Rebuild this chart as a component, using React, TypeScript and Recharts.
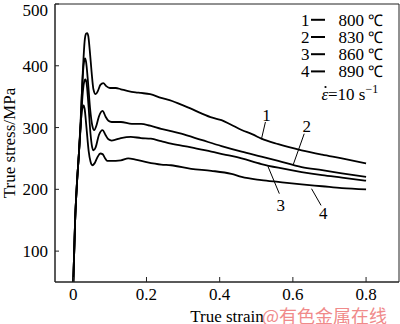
import {
  LineChart,
  Line,
  XAxis,
  YAxis,
  ReferenceArea,
  ReferenceLine,
  ReferenceDot,
} from "recharts";

// true strain / true stress (MPa)
const strain1 = [0, 0.005, 0.01, 0.015, 0.02, 0.026, 0.031, 0.035, 0.038, 0.041, 0.045, 0.05, 0.055, 0.061, 0.067, 0.074, 0.082, 0.09, 0.1, 0.116, 0.13, 0.15, 0.17, 0.185, 0.21, 0.24, 0.27, 0.295, 0.32, 0.35, 0.38, 0.405, 0.43, 0.46, 0.49, 0.514, 0.56, 0.624, 0.68, 0.734, 0.8];
const stress1 = [50, 150, 210, 255, 310, 390, 440, 452, 453, 448, 425, 390, 362, 354, 359, 369, 372, 367, 364, 364, 362, 359, 357, 356, 354, 348, 343, 337, 331, 323, 316, 312, 305, 296, 289, 282, 273, 263, 256, 250, 242];

const strain2 = [0, 0.005, 0.01, 0.015, 0.02, 0.025, 0.029, 0.032, 0.035, 0.04, 0.046, 0.052, 0.057, 0.063, 0.07, 0.08, 0.088, 0.096, 0.105, 0.13, 0.16, 0.185, 0.21, 0.24, 0.27, 0.295, 0.35, 0.405, 0.46, 0.514, 0.56, 0.624, 0.68, 0.734, 0.8];
const stress2 = [50, 150, 210, 255, 305, 375, 405, 412, 406, 375, 330, 303, 296, 303, 318, 327, 318, 311, 309, 309, 306, 306, 303, 298, 294, 290, 280, 270, 261, 253, 246, 236, 231, 226, 220];

const strain3 = [0, 0.005, 0.01, 0.015, 0.02, 0.025, 0.029, 0.033, 0.036, 0.041, 0.047, 0.051, 0.055, 0.061, 0.07, 0.08, 0.088, 0.096, 0.105, 0.13, 0.157, 0.185, 0.212, 0.24, 0.267, 0.322, 0.377, 0.432, 0.46, 0.514, 0.56, 0.624, 0.68, 0.734, 0.8];
const stress3 = [50, 150, 210, 255, 300, 350, 372, 378, 373, 340, 290, 270, 263, 268, 288, 296, 288, 281, 279, 283, 285, 283, 282, 278, 274, 268, 261, 254, 250, 241, 235, 228, 223, 219, 214];

const strain4 = [0, 0.005, 0.01, 0.015, 0.019, 0.023, 0.026, 0.028, 0.031, 0.036, 0.042, 0.047, 0.052, 0.058, 0.066, 0.074, 0.08, 0.086, 0.093, 0.102, 0.13, 0.15, 0.17, 0.2, 0.24, 0.267, 0.322, 0.377, 0.432, 0.46, 0.514, 0.56, 0.624, 0.68, 0.734, 0.8];
const stress4 = [50, 150, 210, 255, 295, 325, 334, 336, 330, 300, 262, 245, 239, 242, 252, 258, 257, 251, 246, 246, 247, 250, 248, 244, 240, 239, 233, 230, 225, 220, 215, 212, 208, 205, 202, 200];

const curveNames = ["1", "2", "3", "4"];
const temps = ["800", "830", "860", "890"];
const xTicks = [0, 0.2, 0.4, 0.6, 0.8];
const yTicks = [100, 200, 300, 400, 500];

// leader lines: [label point, line start, line end]
const leaders = [
  { label: { x: 0.528, y: 320 }, from: { x: 0.525, y: 309 }, to: { x: 0.514, y: 281 } },
  { label: { x: 0.638, y: 302 }, from: { x: 0.631, y: 290 }, to: { x: 0.601, y: 240 } },
  { label: { x: 0.567, y: 175 }, from: { x: 0.532, y: 237 }, to: { x: 0.563, y: 193 } },
  { label: { x: 0.683, y: 161 }, from: { x: 0.651, y: 201 }, to: { x: 0.677, y: 174 } },
];

const zip = (xs: number[], ys: number[]) => xs.map((x, i) => ({ strain: x, stress: ys[i] }));
const curves = [zip(strain1, stress1), zip(strain2, stress2), zip(strain3, stress3), zip(strain4, stress4)];

const font = "'Liberation Serif', 'Times New Roman', serif";

export default function App() {
  return (
    <div style={{ position: "absolute", left: 0, top: 0, width: 400, height: 324, fontFamily: font, background: "#fff" }}>
      <LineChart width={400} height={324} margin={{ top: 4, right: 1, left: 0, bottom: 0 }}>
        <XAxis
          dataKey="strain"
          type="number"
          domain={[-0.05, 0.89]}
          ticks={xTicks}
          allowDataOverflow
          height={42}
          tickSize={-5}
          tickMargin={11}
          stroke="#222"
          tick={{ fill: "#000", fontSize: 17, fontFamily: font }}
          label={{ value: "True strain", position: "insideBottom", offset: 0, dy: -2, fill: "#000", fontSize: 17, fontFamily: font }}
        />
        <YAxis
          type="number"
          domain={[50, 500]}
          ticks={yTicks}
          allowDataOverflow
          width={55}
          tickSize={-4}
          tickMargin={11}
          stroke="#222"
          tick={{ fill: "#000", fontSize: 17, fontFamily: font }}
          label={{ value: "True stress/MPa", angle: -90, position: "insideLeft", dx: 4, dy: 0, fill: "#000", fontSize: 17, fontFamily: font, style: { textAnchor: "middle" } }}
        />
        <ReferenceArea x1={-0.05} x2={0.89} y1={50} y2={500} fill="none" stroke="#222" strokeWidth={1} />
        {curves.map((d, i) => (
          <Line
            key={curveNames[i]}
            data={d}
            dataKey="stress"
            type="monotone"
            stroke="#000"
            strokeWidth={1.8}
            dot={false}
            isAnimationActive={false}
          />
        ))}
        {leaders.map((l, i) => (
          <ReferenceLine key={"l" + i} segment={[l.from, l.to]} stroke="#000" strokeWidth={1} />
        ))}
        {leaders.map((l, i) => (
          <ReferenceDot
            key={"d" + i}
            x={l.label.x}
            y={l.label.y}
            r={0}
            fill="none"
            stroke="none"
            label={{ value: curveNames[i], position: "center", fill: "#000", fontSize: 17, fontFamily: font }}
          />
        ))}
      </LineChart>
      <svg width={400} height={324} style={{ position: "absolute", left: 0, top: 0, pointerEvents: "none" }}>
        {temps.map((t, i) => (
          <g key={t}>
            <text x={309.5} y={25.7 + i * 17.2} textAnchor="end" fontSize={17} fontFamily={font} fill="#000">
              {curveNames[i]}
            </text>
            <line x1={311} x2={325} y1={19.8 + i * 17.2} y2={19.8 + i * 17.2} stroke="#000" strokeWidth={2} />
            <text x={364} y={25.7 + i * 17.2} textAnchor="end" fontSize={17} fontFamily={font} fill="#000">
              {t}
            </text>
            <text x={368} y={25.7 + i * 17.2} fontSize={16} fontFamily={font} fill="#000" textLength={15} lengthAdjust="spacingAndGlyphs">
              ℃
            </text>
          </g>
        ))}
        <text x={321.5} y={100} fontSize={17} fontFamily={font} fill="#000" fontStyle="italic">
          ε
        </text>
        <circle cx={325.5} cy={87} r={1.1} fill="#000" />
        <text x={328} y={100} fontSize={17} fontFamily={font} fill="#000">
          =10 s
        </text>
        <text x={365.5} y={93} fontSize={12} fontFamily={font} fill="#000">
          −1
        </text>
        <text x={262} y={323} fontSize={18} fontFamily="'Noto Sans CJK SC', sans-serif" fill="#f08a8a">
          @有色金属在线
        </text>
      </svg>
    </div>
  );
}
